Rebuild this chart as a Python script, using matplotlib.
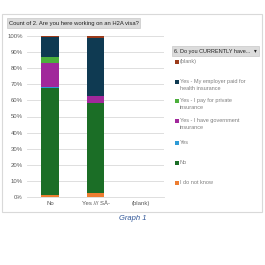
import matplotlib
matplotlib.use("Agg")
import matplotlib.pyplot as plt
from matplotlib.patches import Rectangle
import numpy as np

plt.rcParams['font.family'] = ['Liberation Sans', 'DejaVu Sans']

categories = ["No", "Yes /// SÅ-", "(blank)"]
# series, bottom to top (percent of column)
series_names = ["I do not know", "No", "Yes",
                "Yes - I have government\ninsurance",
                "Yes - I pay for private\ninsurance",
                "Yes - My employer paid for\nhealth insurance",
                "(blank)"]
series_values = [
    [1.0, 2.5, 0],
    [66.5, 56.0, 0],
    [0.8, 0.0, 0],
    [15.0, 4.5, 0],
    [3.5, 0.0, 0],
    [12.5, 35.5, 0],
    [0.7, 1.5, 0],
]
series_colors = ["#ed7d31", "#1b6e26", "#2e9bd6", "#a1289b",
                 "#4caf3c", "#0f3a52", "#9b3b1b"]
yticks = [0, 10, 20, 30, 40, 50, 60, 70, 80, 90, 100]

W = H = 265
fig = plt.figure(figsize=(W / 100, H / 100), dpi=100)
fig.patch.set_facecolor("white")

def fx(px):
    return px / W

def fy(py):
    return 1 - py / H

# outer frame
fig.patches.append(Rectangle((fx(2), fy(212)), fx(260), (212 - 14) / H,
                             transform=fig.transFigure, fill=False,
                             edgecolor="#d9d9d9", linewidth=0.8))

ax = fig.add_axes([fx(27), fy(197), fx(164 - 27), (197 - 36) / H])
x = np.arange(len(categories))
bottom = np.zeros(len(categories))
for vals, col in zip(series_values, series_colors):
    v = np.array(vals, dtype=float)
    ax.bar(x, v, bottom=bottom, width=0.39, color=col, edgecolor="none")
    bottom += v
ax.set_xlim(-0.5, len(categories) - 0.5)
ax.set_ylim(0, 100)
ax.set_yticks(yticks)
ax.set_yticklabels([f"{t}%" for t in yticks], fontsize=4.3, color="#595959")
ax.set_xticks(x)
ax.set_xticklabels(categories, fontsize=4.3, color="#595959")
ax.tick_params(length=0, pad=3)
ax.grid(axis="y", color="#d9d9d9", linewidth=0.6)
ax.set_axisbelow(True)
for s in ["top", "right", "left"]:
    ax.spines[s].set_visible(False)
ax.spines["bottom"].set_color("#d9d9d9")
ax.spines["bottom"].set_linewidth(0.6)

# title box
fig.patches.append(Rectangle((fx(7), fy(28)), fx(133), 10 / H,
                             transform=fig.transFigure, facecolor="#dcdcdc",
                             edgecolor="#c0c0c0", linewidth=0.4))
fig.text(fx(9), fy(23), "Count of 2. Are you here working on an H2A visa?",
         fontsize=4.2, color="#222222", va="center", ha="left")

# legend header box
fig.patches.append(Rectangle((fx(172), fy(56)), fx(87), 10 / H,
                             transform=fig.transFigure, facecolor="#dcdcdc",
                             edgecolor="#c0c0c0", linewidth=0.4))
fig.text(fx(174), fy(51), "6. Do you CURRENTLY have...",
         fontsize=4.0, color="#222222", va="center", ha="left")
fig.text(fx(255), fy(51), "\u25be", fontsize=4.0, color="#222222",
         va="center", ha="center", family=["DejaVu Sans"])

# legend entries, top to bottom
legend_y = [62, 82, 101, 121, 143, 163, 183]
order = list(range(len(series_names)))[::-1]
for yy, i in zip(legend_y, order):
    fig.patches.append(Rectangle((fx(175), fy(yy + 2)), fx(4), 4 / H,
                                 transform=fig.transFigure,
                                 facecolor=series_colors[i], edgecolor="none"))
    multi = "\n" in series_names[i]
    fig.text(fx(180), fy(yy - 3) if multi else fy(yy), series_names[i],
             fontsize=4.0, color="#7f7f7f",
             va="top" if multi else "center", ha="left", linespacing=1.6)

fig.text(fx(133), fy(218), "Graph 1", fontsize=5.5, color="#2f5597",
         style="italic", ha="center", va="center")

fig.savefig("out.png", dpi=100)
